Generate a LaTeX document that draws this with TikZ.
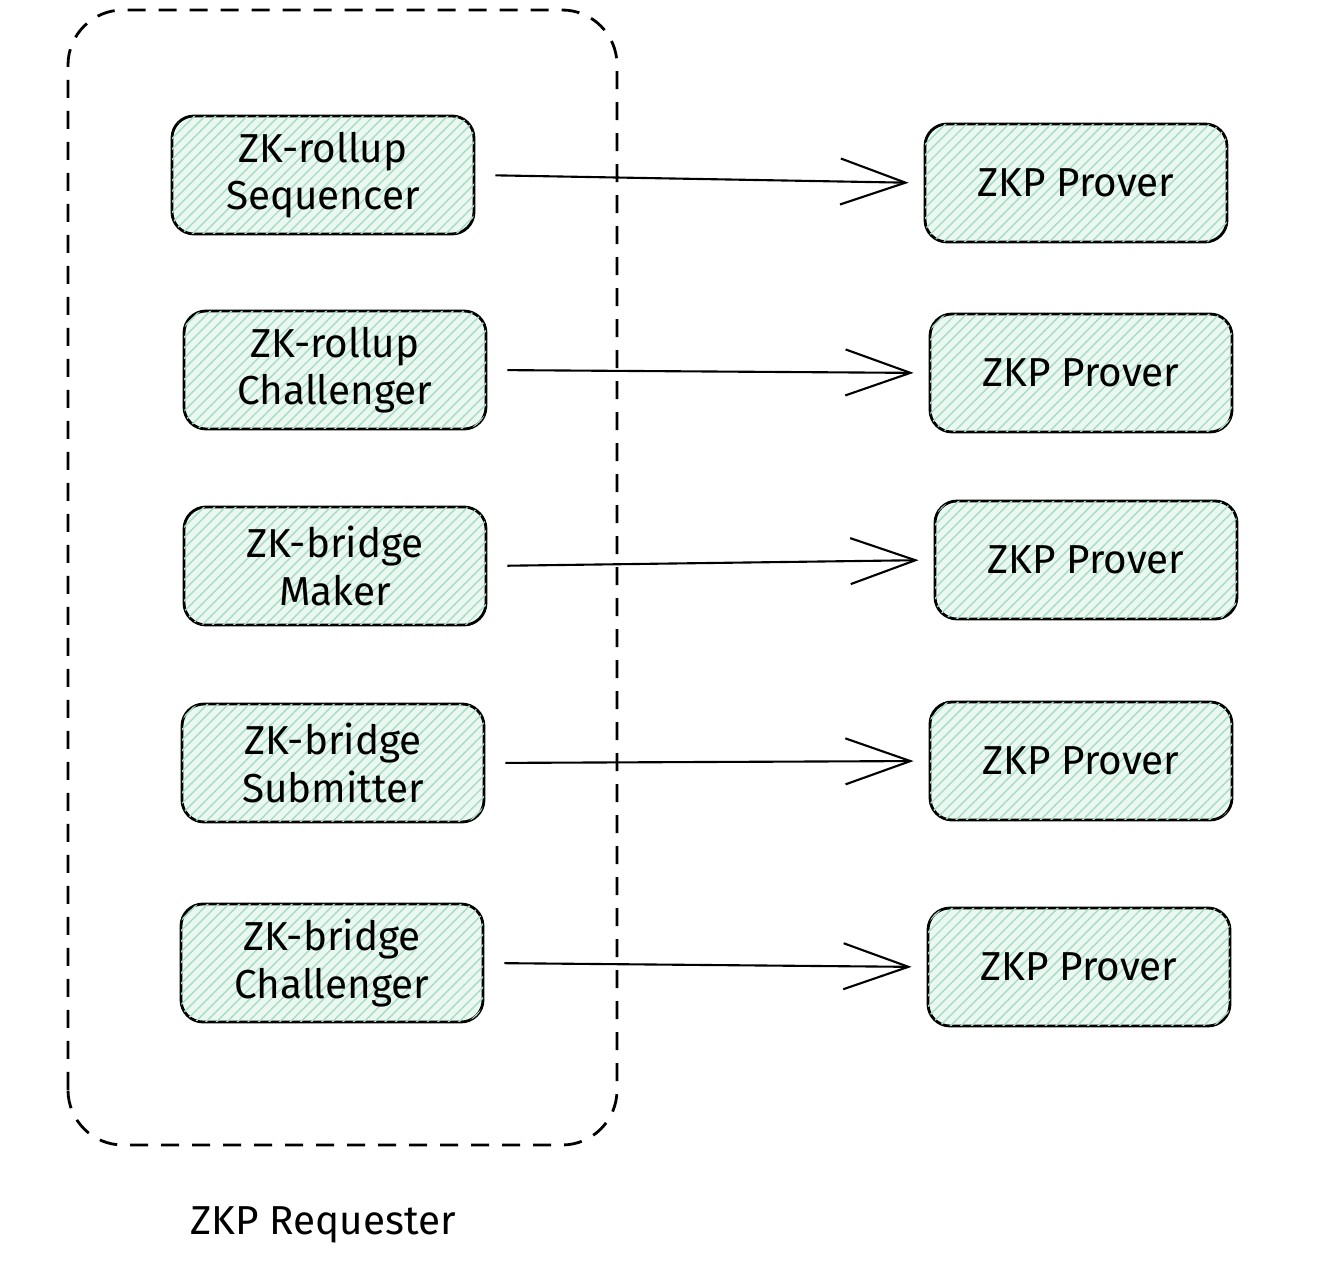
\documentclass[tikz,border=0pt]{standalone}
\usepackage{fontspec}
\setmainfont{Fira Sans}
\usetikzlibrary{arrows.meta,patterns}
\definecolor{boxFill}{HTML}{EAF8F1}
\definecolor{hatchColor}{HTML}{A8DDC4}
\newcommand{\boxWidth}{3.02cm}
\newcommand{\boxHeight}{1.18cm}
\newcommand{\boxFont}{\fontsize{11.5}{13.5}\selectfont}

\tikzset{
  zkbox/.style={draw, thick, rounded corners=0.22cm, fill=boxFill,
    postaction={pattern=north east lines, pattern color=hatchColor},
    minimum width=\boxWidth, minimum height=\boxHeight,
    align=center, font=\boxFont, inner sep=2pt},
  reqArrow/.style={semithick, -{Straight Barb[length=6.5mm,width=4.6mm]},
    shorten <=0.2cm, shorten >=0.15cm},
}

\begin{document}
\begin{tikzpicture}
\useasboundingbox (0,0) rectangle (13.22,12.70);
% requester group
\draw[thick, dash pattern=on 0.18cm off 0.13cm, rounded corners=0.55cm]
  (0.68,1.25) rectangle (6.17,12.60);
\node (reqlabel) [font=\boxFont] at (3.23,0.45) {ZKP Requester};
% requesters
\node[zkbox] (rollupSeq) at (3.23,10.95) {ZK-rollup\\Sequencer};
\node[zkbox] (rollupChal) at (3.35,9.00) {ZK-rollup\\Challenger};
\node[zkbox] (bridgeMaker) at (3.35,7.04) {ZK-bridge\\Maker};
\node[zkbox] (bridgeSub) at (3.33,5.07) {ZK-bridge\\Submitter};
\node[zkbox] (bridgeChal) at (3.32,3.07) {ZK-bridge\\Challenger};
% provers
\node[zkbox] (proverA) at (10.76,10.87) {ZKP Prover};
\node[zkbox] (proverB) at (10.81,8.97) {ZKP Prover};
\node[zkbox] (proverC) at (10.86,7.10) {ZKP Prover};
\node[zkbox] (proverD) at (10.81,5.09) {ZKP Prover};
\node[zkbox] (proverE) at (10.79,3.03) {ZKP Prover};
% requests
\draw[reqArrow] (rollupSeq.east) -- (proverA.west);
\draw[reqArrow] (rollupChal.east) -- (proverB.west);
\draw[reqArrow] (bridgeMaker.east) -- (proverC.west);
\draw[reqArrow] (bridgeSub.east) -- (proverD.west);
\draw[reqArrow] (bridgeChal.east) -- (proverE.west);
\end{tikzpicture}
\end{document}
